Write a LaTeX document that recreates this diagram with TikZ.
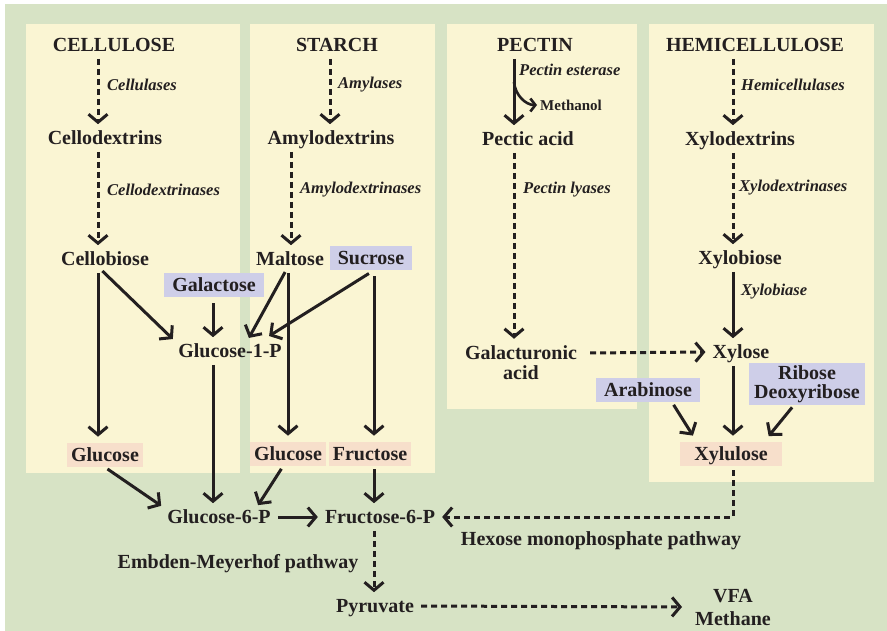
\documentclass[tikz,border=0pt]{standalone}
\usepackage{fontspec}
\setmainfont{Liberation Serif}
\usetikzlibrary{arrows.meta,calc}
\definecolor{bg}{HTML}{D7E3C5}
\definecolor{pan}{HTML}{FAF5D3}
\definecolor{lav}{HTML}{CECEE8}
\definecolor{pnk}{HTML}{F7DFCB}
\definecolor{ink}{HTML}{231F20}
\begin{document}
\begin{tikzpicture}[x=1pt,y=-1pt,
  lbl/.style={font=\bfseries\fontsize{20}{22}\selectfont, text=ink, inner sep=1pt, text height=13.2pt, text depth=0pt},
  lbltwo/.style={font=\bfseries\fontsize{20}{#1}\selectfont, text=ink, inner sep=1pt, align=center},
  enz/.style={font=\bfseries\itshape\fontsize{16.5}{18}\selectfont, text=ink, anchor=west, inner sep=0pt},
  lavbox/.style={lbl, fill=lav, inner xsep=8pt, inner ysep=5.5pt},
  pinkbox/.style={lbl, fill=pnk, inner xsep=4pt, inner ysep=5.5pt},
  arr/.style={draw=ink, line width=3pt, -{Straight Barb[length=8pt,width=19pt,line width=3pt]}, shorten <=6pt, shorten >=6pt},
  darr/.style={arr, dash pattern=on 6pt off 4pt},
  panel/.style={fill=pan, draw=none}]
\useasboundingbox (0,0) rectangle (887,631);
\fill[white] (0,0) rectangle (887,631);
\fill[bg] (5,4) rectangle (887,631);
\fill[panel] (26,24) rectangle (240,473);
\fill[panel] (250,24) rectangle (435,473);
\fill[panel] (447,24) rectangle (637,409);
\fill[panel] (649,24) rectangle (874,482);

% column coordinates
\coordinate (xc) at (98,0);
\coordinate (xa) at (330,0);
\coordinate (xad) at (291,0);
\coordinate (xm) at (288,0);
\coordinate (xsu) at (374,0);
\coordinate (xg) at (213,0);
\coordinate (xp) at (514,0);
\coordinate (xh) at (733,0);
\coordinate (pbr) at (514,82);

% titles
\node[lbl] (cellulose) at (114,45) {CELLULOSE};
\node[lbl] (starch) at (337,45) {STARCH};
\node[lbl] (pectin) at (535,45) {PECTIN};
\node[lbl] (hemi) at (755,45) {HEMICELLULOSE};

% cellulose / starch
\node[lbl] (cellodex) at (105,138) {Cellodextrins};
\node[lbl] (cellobiose) at (105,259) {Cellobiose};
\node[lbl] (amylodex) at (331,138) {Amylodextrins};
\node[lbl] (maltose) at (290,259) {Maltose};
\node[lavbox] (sucrose) at (371,258) {Sucrose};
\node[lavbox] (galactose) at (214,285) {Galactose};
\node[lbl] (g1p) at (230,351) {Glucose-1-P};
\node[pinkbox] (glc1) at (105,455) {Glucose};
\node[pinkbox] (glc2) at (288,454) {Glucose};
\node[pinkbox] (fru) at (370,454) {Fructose};
\node[lbl] (g6p) at (219,517) {Glucose-6-P};
\node[lbl] (f6p) at (380,517) {Fructose-6-P};
\node[lbl] (emp) at (238,562) {Embden-Meyerhof pathway};
\node[lbl] (pyr) at (375,606) {Pyruvate};
\node[lbltwo=23] (vfa) at (733,607) {VFA\\Methane};

% pectin
\node[lbl] (pectic) at (528,139) {Pectic acid};
\node[lbltwo=20] (galact) at (521,363) {Galacturonic\\acid};
\node[font=\bfseries\fontsize{15}{17}\selectfont, text=ink, anchor=west, inner sep=1pt] (methanol) at (539,105) {Methanol};

% hemicellulose
\node[lbl] (xylodex) at (740,139) {Xylodextrins};
\node[lbl] (xylobiose) at (740,258) {Xylobiose};
\node[lbl] (xylose) at (741,352) {Xylose};
\node[lavbox] (arab) at (648,390) {Arabinose};
\node[lbltwo=19.5, fill=lav, inner xsep=5pt, inner ysep=2pt] (ribose) at (807,384) {Ribose\\Deoxyribose};
\node[pinkbox, inner xsep=14pt] (xylulose) at (731,454) {Xylulose};
\node[lbl] (hmp) at (601,539) {Hexose monophosphate pathway};

% enzyme labels
\node[enz] (e1) at (107,85) {Cellulases};
\node[enz] (e2) at (107,190) {Cellodextrinases};
\node[enz] (e3) at (338,85) {Amylases};
\node[enz] (e4) at (300,190) {Amylodextrinases};
\node[enz] (e5) at (519,70) {Pectin esterase};
\node[enz] (e6) at (523,190) {Pectin lyases};
\node[enz] (e7) at (741,85) {Hemicellulases};
\node[enz] (e8) at (739,188) {Xylodextrinases};
\node[enz] (e9) at (741,292) {Xylobiase};

% cellulose chain
\draw[darr] (cellulose.south -| xc) -- (cellodex.north -| xc);
\draw[darr] (cellodex.south -| xc) -- (cellobiose.north -| xc);
\draw[arr] (cellobiose.south -| xc) -- (glc1.north -| xc);
\draw[arr] (cellobiose.south -| xc) -- (g1p.north west);
\draw[arr] (galactose.south -| xg) -- (g1p.north -| xg);

% starch chain
\draw[darr] (starch.south -| xa) -- (amylodex.north -| xa);
\draw[darr] (amylodex.south -| xad) -- (maltose.north -| xad);
\draw[arr] (maltose.south -| xm) -- (glc2.north -| xm);
\draw[arr] (maltose.south -| xm) -- ($(g1p.north)+(16,0)$);
\draw[arr] (sucrose.south -| xsu) -- ($(g1p.north)+(34,-4)$);
\draw[arr] (sucrose.south -| xsu) -- (fru.north -| xsu);

% to glucose-6-P
\draw[arr, shorten <=3pt] (glc1.south) -- (g6p.north west);
\draw[arr] (g1p.south -| xg) -- (g6p.north -| xg);
\draw[arr, shorten <=3pt] ($(glc2.south)+(-5,0)$) -- ($(g6p.north east)+(-17,1)$);
\draw[arr, shorten <=3pt] (fru.south -| xsu) -- (f6p.north -| xsu);
\draw[arr] (g6p.east) -- (f6p.west);
\draw[darr] (f6p.south -| xsu) -- (pyr.north -| xsu);
\draw[darr, shorten >=12pt] (pyr.east) -- (vfa.west);

% pectin chain
\draw[arr] (pectin.south -| xp) -- (pectic.north -| xp);
\draw[draw=ink, line width=2.6pt, -{Straight Barb[length=5pt,width=13pt,line width=2.6pt]}, shorten >=2pt] (pbr) to[out=-85,in=180] (methanol.west);
\draw[darr] (pectic.south -| xp) -- (galact.north -| xp);
\draw[darr] ($(galact.east)+(6,-10)$) -- (xylose.west);

% hemicellulose chain
\draw[darr] (hemi.south -| xh) -- (xylodex.north -| xh);
\draw[darr] (xylodex.south -| xh) -- (xylobiose.north -| xh);
\draw[arr] (xylobiose.south -| xh) -- (xylose.north -| xh);
\draw[arr] (xylose.south -| xh) -- (xylulose.north -| xh);
\draw[arr, shorten <=3pt] ($(arab.south)+(24,0)$) -- ($(xylulose.north west)+(16,-1)$);
\draw[arr, shorten <=3pt] ($(ribose.south)+(-13,0)$) -- ($(xylulose.north east)+(-17,-1)$);
\draw[darr, shorten <=4pt] (xylulose.south -| xh) |- (f6p.east);
\end{tikzpicture}
\end{document}
